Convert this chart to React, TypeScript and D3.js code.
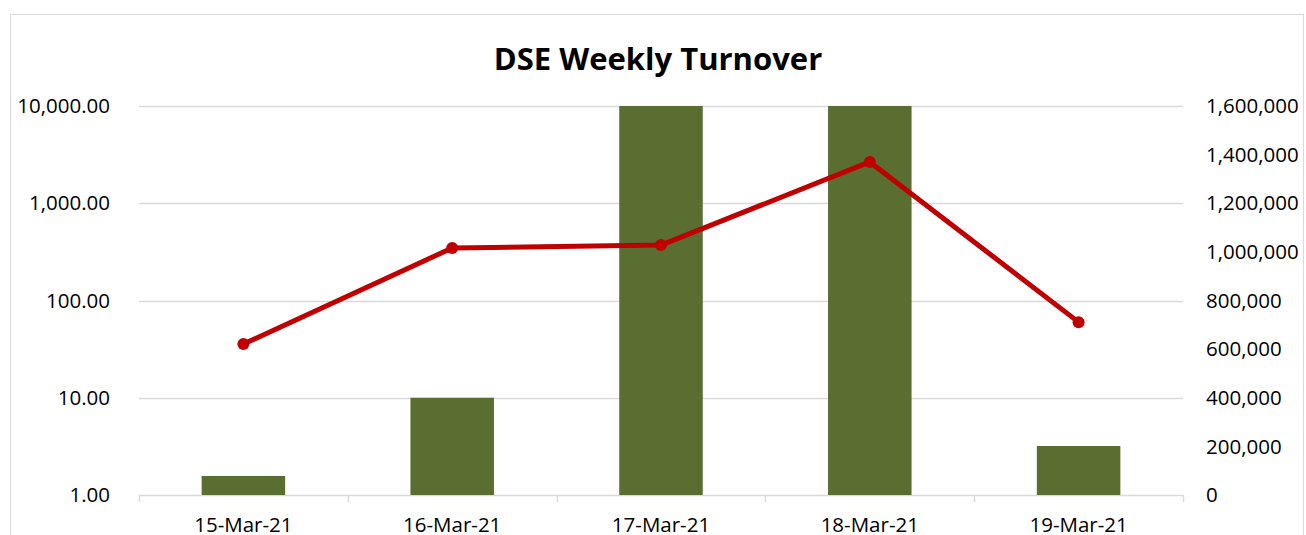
import { useEffect, useRef } from 'react';
import * as d3 from 'd3';

// values
const dates = ['15-Mar-21', '16-Mar-21', '17-Mar-21', '18-Mar-21', '19-Mar-21'];
const barValues = [1.57, 10, 10000, 10000, 3.19];
const lineValues = [621000, 1016000, 1028000, 1370000, 711000];
const leftTicks = [1, 10, 100, 1000, 10000];
const rightTicks = [0, 200000, 400000, 600000, 800000, 1000000, 1200000, 1400000, 1600000];

const FONT = 'Open Sans, Calibri, sans-serif';

const App = () => {
  const svgRef = useRef<SVGSVGElement>(null);

  useEffect(() => {
    if (!svgRef.current) return;
    const svg = d3.select(svgRef.current);
    svg.selectAll('*').remove();

    const W = 1306;
    const H = 535;
    const plot = { left: 139, right: 1183, top: 106, bottom: 495 };

    svg.attr('width', W).attr('height', H);

    // outer chart border
    svg
      .append('rect')
      .attr('x', 10.5)
      .attr('y', 14.5)
      .attr('width', 1293)
      .attr('height', 540)
      .attr('fill', 'white')
      .attr('stroke', '#d9d9d9')
      .attr('stroke-width', 1);

    const x = d3
      .scaleBand()
      .domain(dates)
      .range([plot.left, plot.right])
      .paddingInner(0)
      .paddingOuter(0);

    const yLeft = d3.scaleLog().domain([1, 10000]).range([plot.bottom, plot.top]);
    const yRight = d3.scaleLinear().domain([0, 1600000]).range([plot.bottom, plot.top]);

    // gridlines
    svg
      .selectAll('.grid')
      .data(leftTicks)
      .enter()
      .append('line')
      .attr('x1', plot.left)
      .attr('x2', plot.right)
      .attr('y1', (d) => Math.round(yLeft(d)) + 0.5)
      .attr('y2', (d) => Math.round(yLeft(d)) + 0.5)
      .attr('stroke', '#d9d9d9')
      .attr('stroke-width', 1.5);

    // category tick marks
    const bounds = dates.map((d) => x(d)!).concat([plot.right]);
    svg
      .selectAll('.xtick')
      .data(bounds)
      .enter()
      .append('line')
      .attr('x1', (d) => Math.round(d) + 0.5)
      .attr('x2', (d) => Math.round(d) + 0.5)
      .attr('y1', plot.bottom)
      .attr('y2', plot.bottom + 7)
      .attr('stroke', '#d9d9d9')
      .attr('stroke-width', 1.5);

    // bars (log axis, clipped at plot top)
    const barW = x.bandwidth() * 0.4;
    svg
      .selectAll('.bar')
      .data(barValues)
      .enter()
      .append('rect')
      .attr('x', (_, i) => x(dates[i])! + (x.bandwidth() - barW) / 2)
      .attr('y', (d) => Math.max(yLeft(d), plot.top))
      .attr('width', barW)
      .attr('height', (d) => plot.bottom - Math.max(yLeft(d), plot.top))
      .attr('fill', '#5a6e32');

    // line on right axis
    const cx = (i: number) => x(dates[i])! + x.bandwidth() / 2;
    const line = d3
      .line<number>()
      .x((_, i) => cx(i))
      .y((d) => yRight(d));

    svg
      .append('path')
      .datum(lineValues)
      .attr('d', line)
      .attr('fill', 'none')
      .attr('stroke', '#c00000')
      .attr('stroke-width', 5)
      .attr('stroke-linejoin', 'round');

    svg
      .selectAll('.pt')
      .data(lineValues)
      .enter()
      .append('circle')
      .attr('cx', (_, i) => cx(i))
      .attr('cy', (d) => yRight(d))
      .attr('r', 6)
      .attr('fill', '#c00000');

    // left axis labels
    const fmtLeft = d3.format(',.2f');
    svg
      .selectAll('.ly')
      .data(leftTicks)
      .enter()
      .append('text')
      .attr('x', 110)
      .attr('y', (d) => yLeft(d))
      .attr('dy', '0.35em')
      .attr('text-anchor', 'end')
      .attr('font-family', FONT)
      .attr('font-size', 20.5)
      .attr('fill', '#000')
      .text((d) => fmtLeft(d));

    // right axis labels
    const fmtRight = d3.format(',');
    svg
      .selectAll('.ry')
      .data(rightTicks)
      .enter()
      .append('text')
      .attr('x', 1206)
      .attr('y', (d) => yRight(d))
      .attr('dy', '0.35em')
      .attr('text-anchor', 'start')
      .attr('font-family', FONT)
      .attr('font-size', 20.5)
      .attr('fill', '#000')
      .text((d) => fmtRight(d));

    // category labels
    svg
      .selectAll('.xl')
      .data(dates)
      .enter()
      .append('text')
      .attr('x', (d) => x(d)! + x.bandwidth() / 2)
      .attr('y', 525)
      .attr('dy', '0.35em')
      .attr('text-anchor', 'middle')
      .attr('font-family', FONT)
      .attr('font-size', 20.5)
      .attr('fill', '#000')
      .text((d) => d);

    // title
    svg
      .append('text')
      .attr('x', 658)
      .attr('y', 59)
      .attr('dy', '0.35em')
      .attr('text-anchor', 'middle')
      .attr('font-family', FONT)
      .attr('font-weight', 'bold')
      .attr('font-size', 31)
      .attr('fill', '#000')
      .text('DSE Weekly Turnover');
  }, []);

  return (
    <svg
      ref={svgRef}
      style={{ position: 'absolute', left: 0, top: 0, display: 'block' }}
    ></svg>
  );
};

export default App;
